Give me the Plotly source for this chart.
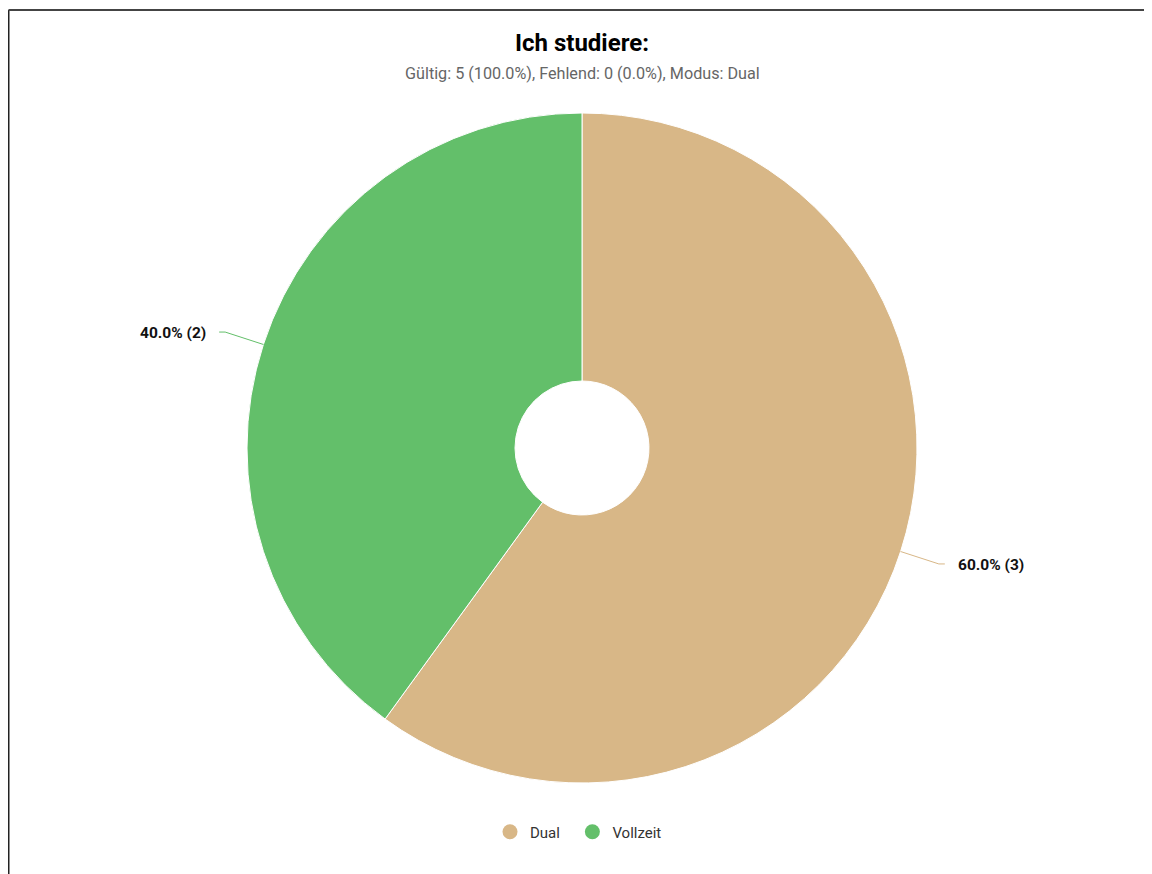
import numpy as np
import plotly.graph_objects as go

# Daten
labels = ["Dual", "Vollzeit"]
values = [3, 2]
colors = ["#D8B787", "#63BF6A"]
title_text = "Ich studiere:"
subtitle_text = "Gültig: 5 (100.0%), Fehlend: 0 (0.0%), Modus: Dual"

W, H = 1152, 874
OFF = 8  # Seitenrand des Browsers (body margin)
cx, cy, R = 582, 448, 335  # Pixel-Geometrie des Kreises (Bildschirmkoordinaten)


def px(x):
    return (x - OFF) / W


def py(y):
    return 1 - (y - OFF) / H


fig = go.Figure()

fig.add_trace(go.Pie(
    labels=labels, values=values, sort=False, direction="clockwise", rotation=0,
    hole=0.2, textinfo="none", hoverinfo="label+value+percent",
    marker=dict(colors=colors, line=dict(color="white", width=1)),
    domain=dict(x=[px(cx - R), px(cx + R)], y=[py(cy + R), py(cy - R)]),
    showlegend=False,
))

# Legende mit Kreissymbolen (geschützte Leerzeichen für etwas mehr Abstand)
for lab, col in zip(labels, colors):
    fig.add_trace(go.Scatter(
        x=[None], y=[None], mode="markers", name=lab + "\u00a0\u00a0",
        marker=dict(color=col, size=15, symbol="circle"),
    ))

# Beschriftungen mit Führungslinien
total = sum(values)
start = 0.0
for lab, val, col in zip(labels, values, colors):
    frac = val / total
    mid = start + frac / 2
    start += frac
    ang = np.deg2rad(90 - mid * 360)
    ex, ey = cx + R * np.cos(ang), cy - R * np.sin(ang)
    kx, ky = cx + 1.12 * R * np.cos(ang), cy - 1.12 * R * np.sin(ang)
    side = 1 if np.cos(ang) >= 0 else -1
    hx = kx + side * 6
    fig.add_shape(
        type="path", xref="paper", yref="paper",
        path=f"M {px(ex)},{py(ey)} L {px(kx)},{py(ky)} L {px(hx)},{py(ky)}",
        line=dict(color=col, width=1),
    )
    fig.add_annotation(
        x=px(hx + side * 11), y=py(ky + 1), xref="paper", yref="paper",
        text=f"<b>{frac*100:.1f}% ({val})</b>", showarrow=False,
        xanchor="left" if side > 0 else "right", yanchor="middle",
        font=dict(family="Roboto", size=15.5, color="#111"),
    )

# Titel und Untertitel
fig.add_annotation(x=px(582), y=py(43), xref="paper", yref="paper",
                   text=f"<b>{title_text}</b>", showarrow=False, yanchor="middle",
                   font=dict(family="Roboto", size=24, color="#000"))
fig.add_annotation(x=px(582), y=py(73), xref="paper", yref="paper",
                   text=subtitle_text, showarrow=False, yanchor="middle",
                   font=dict(family="Roboto", size=16.2, color="#666"))

# Rahmen (links und oben)
fig.add_shape(type="line", xref="paper", yref="paper",
              x0=0.5 / W, y0=py(10), x1=0.5 / W, y1=-0.05, line=dict(color="#222", width=2))
fig.add_shape(type="line", xref="paper", yref="paper",
              x0=0.5 / W, y0=py(10), x1=1.05, y1=py(10), line=dict(color="#444", width=2))

fig.update_layout(
    width=W, height=H,
    margin=dict(l=0, r=0, t=0, b=0),
    paper_bgcolor="white", plot_bgcolor="white",
    font=dict(family="Roboto", size=15, color="#333"),
    xaxis=dict(visible=False), yaxis=dict(visible=False),
    legend=dict(orientation="h", x=px(582), xanchor="center",
                y=py(832), yanchor="middle", font=dict(size=15, color="#333"),
                itemsizing="trace"),
)

fig.write_html("out.html")
